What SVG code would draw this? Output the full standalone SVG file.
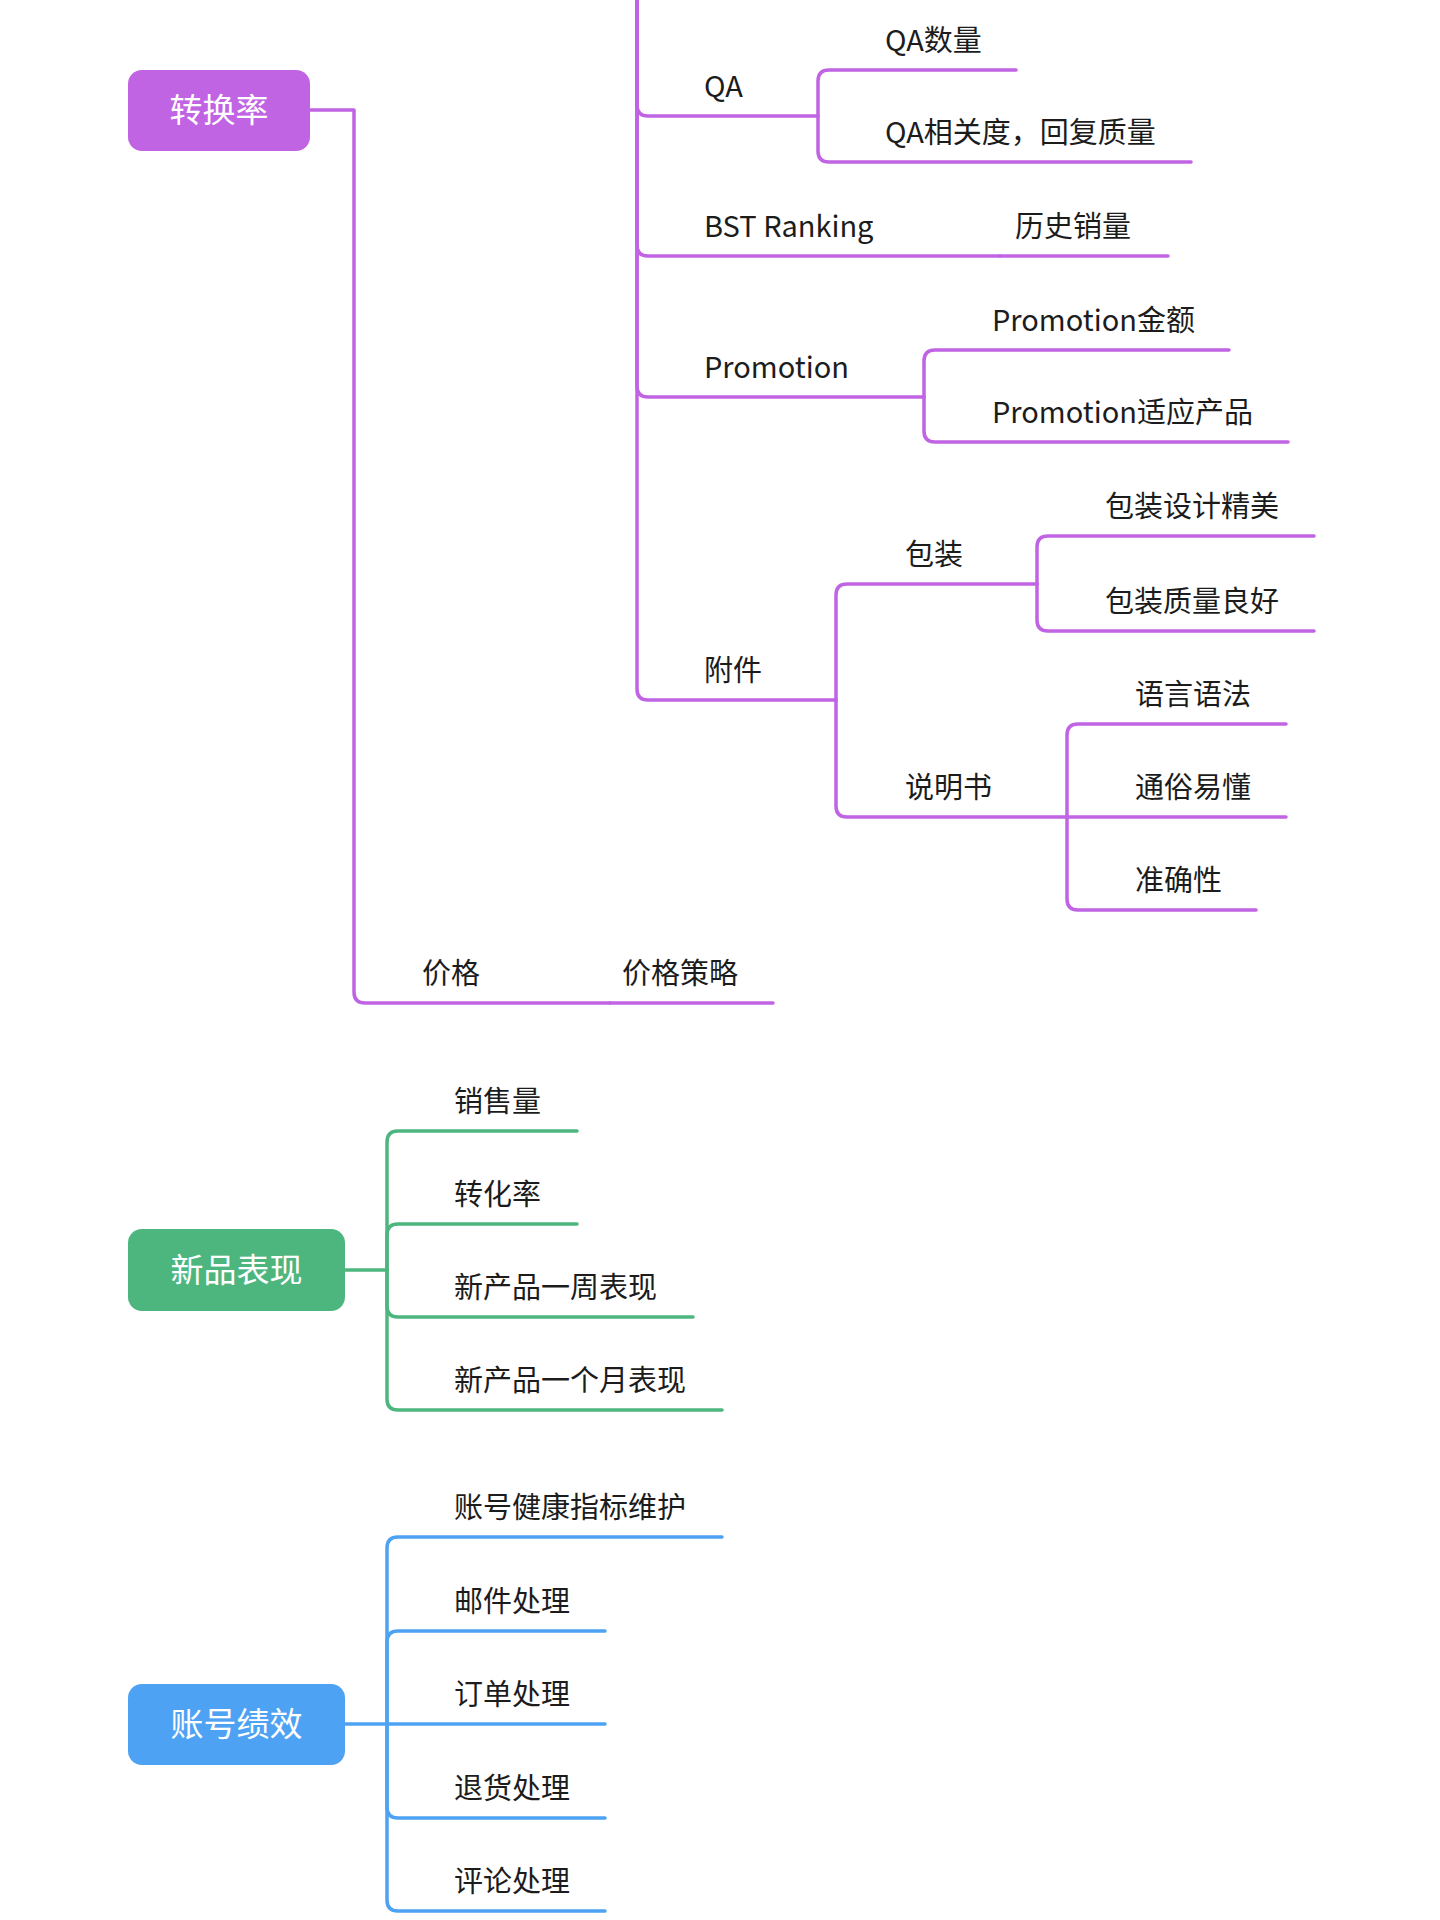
<svg xmlns="http://www.w3.org/2000/svg" width="1440" height="1920" viewBox="0 0 1440 1920">
<style>
.lbl{font-family:"Noto Sans CJK SC","Noto Sans",sans-serif;font-size:29px;fill:#1c1c1c}
.nt{font-family:"Noto Sans CJK SC","Noto Sans",sans-serif;font-size:33px;fill:#ffffff;text-anchor:middle}
.c{fill:none;stroke-width:3.5;stroke-linecap:round;stroke-linejoin:round}
.p{stroke:#c064e4}.g{stroke:#4db67f}.b{stroke:#4ea2f3}
</style>
<rect width="1440" height="1920" fill="#ffffff"/>
<g id="connectors">
<g class="c p">
<path d="M310,110 H354 V992 Q354,1003 365,1003 H610"/>
<path d="M610,1003 H773"/>
<path d="M637,-10 V105 Q637,116 648,116 H818"/>
<path d="M637,-10 V245 Q637,256 648,256 H1000"/>
<path d="M1000,256 H1168"/>
<path d="M637,-10 V386 Q637,397 648,397 H924"/>
<path d="M637,-10 V689 Q637,700 648,700 H836"/>
<path d="M818,116 V81 Q818,70 829,70 H1016"/>
<path d="M818,116 V151 Q818,162 829,162 H1191"/>
<path d="M924,397 V361 Q924,350 935,350 H1229"/>
<path d="M924,397 V431 Q924,442 935,442 H1288"/>
<path d="M836,700 V595 Q836,584 847,584 H1037"/>
<path d="M836,700 V806 Q836,817 847,817 H1067"/>
<path d="M1037,584 V547 Q1037,536 1048,536 H1314"/>
<path d="M1037,584 V620 Q1037,631 1048,631 H1314"/>
<path d="M1067,817 V735 Q1067,724 1078,724 H1286"/>
<path d="M1067,817 H1286"/>
<path d="M1067,817 V899 Q1067,910 1078,910 H1256"/>
</g>
<g class="c g">
<path d="M345,1270 H387"/>
<path d="M387,1270 V1142 Q387,1131 398,1131 H577"/>
<path d="M387,1270 V1235 Q387,1224 398,1224 H577"/>
<path d="M387,1270 V1306 Q387,1317 398,1317 H693"/>
<path d="M387,1270 V1399 Q387,1410 398,1410 H722"/>
</g>
<g class="c b">
<path d="M345,1724 H387"/>
<path d="M387,1724 V1548 Q387,1537 398,1537 H722"/>
<path d="M387,1724 V1642 Q387,1631 398,1631 H605"/>
<path d="M387,1724 H605"/>
<path d="M387,1724 V1807 Q387,1818 398,1818 H605"/>
<path d="M387,1724 V1900 Q387,1911 398,1911 H605"/>
</g>
</g>
<g id="node-zhuanhuanlv"><rect x="128" y="70" width="182" height="81" rx="14" fill="#c064e4"/><text class="nt" x="219" y="122">转换率</text></g>
<g id="node-xinpin"><rect x="128" y="1229" width="217" height="82" rx="14" fill="#4db67f"/><text class="nt" x="236.5" y="1282">新品表现</text></g>
<g id="node-zhanghao"><rect x="128" y="1684" width="217" height="81" rx="14" fill="#4ea2f3"/><text class="nt" x="236.5" y="1736">账号绩效</text></g>
<g id="node-qa"><text class="lbl" x="704" y="97">QA</text></g>
<g id="node-qa-count"><text class="lbl" x="885" y="51">QA数量</text></g>
<g id="node-qa-quality"><text class="lbl" x="885" y="143">QA相关度，回复质量</text></g>
<g id="node-bst"><text class="lbl" x="704" y="237">BST Ranking</text></g>
<g id="node-history"><text class="lbl" x="1015" y="237">历史销量</text></g>
<g id="node-promotion"><text class="lbl" x="704" y="378">Promotion</text></g>
<g id="node-promo-amount"><text class="lbl" x="992" y="331">Promotion金额</text></g>
<g id="node-promo-products"><text class="lbl" x="992" y="423">Promotion适应产品</text></g>
<g id="node-fujian"><text class="lbl" x="704" y="681">附件</text></g>
<g id="node-baozhuang"><text class="lbl" x="905" y="565">包装</text></g>
<g id="node-bz-design"><text class="lbl" x="1105" y="517">包装设计精美</text></g>
<g id="node-bz-quality"><text class="lbl" x="1105" y="612">包装质量良好</text></g>
<g id="node-shuomingshu"><text class="lbl" x="905" y="798">说明书</text></g>
<g id="node-yuyan"><text class="lbl" x="1135" y="705">语言语法</text></g>
<g id="node-tongsu"><text class="lbl" x="1135" y="798">通俗易懂</text></g>
<g id="node-zhunque"><text class="lbl" x="1135" y="891">准确性</text></g>
<g id="node-jiage"><text class="lbl" x="422" y="984">价格</text></g>
<g id="node-jiage-celue"><text class="lbl" x="622" y="984">价格策略</text></g>
<g id="node-xiaoshou"><text class="lbl" x="454" y="1112">销售量</text></g>
<g id="node-zhuanhua"><text class="lbl" x="454" y="1205">转化率</text></g>
<g id="node-week"><text class="lbl" x="454" y="1298">新产品一周表现</text></g>
<g id="node-month"><text class="lbl" x="454" y="1391">新产品一个月表现</text></g>
<g id="node-health"><text class="lbl" x="454" y="1518">账号健康指标维护</text></g>
<g id="node-mail"><text class="lbl" x="454" y="1612">邮件处理</text></g>
<g id="node-order"><text class="lbl" x="454" y="1705">订单处理</text></g>
<g id="node-return"><text class="lbl" x="454" y="1799">退货处理</text></g>
<g id="node-review"><text class="lbl" x="454" y="1892">评论处理</text></g>
</svg>
